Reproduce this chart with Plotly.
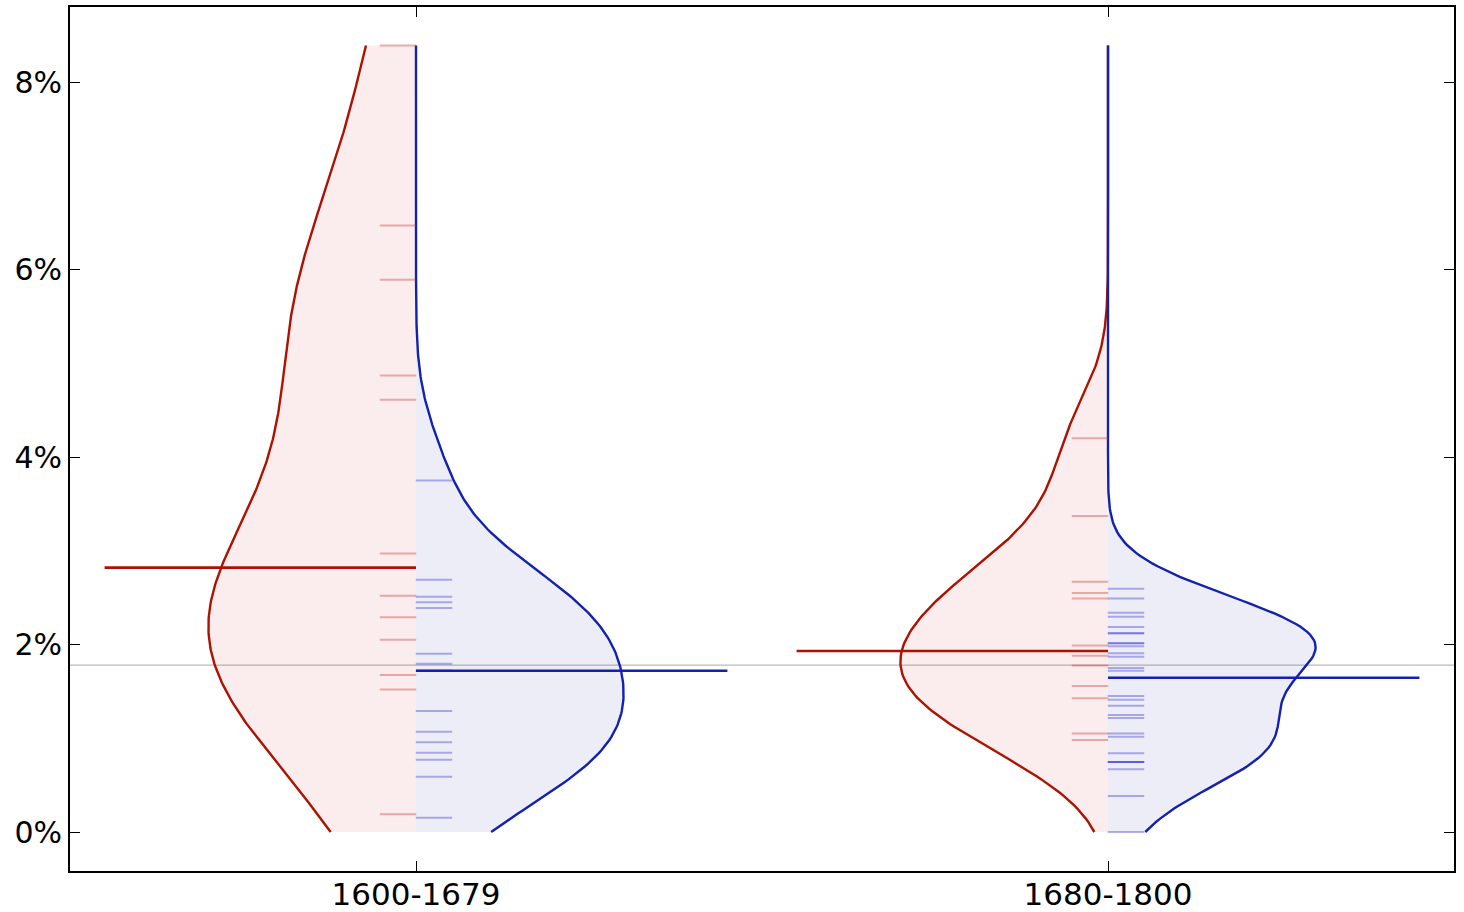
import numpy as np
import plotly.graph_objects as go

categories = ["1600-1679", "1680-1800"]
positions = [0, 1]

red_values = [
    [8.39, 6.47, 5.89, 4.87, 4.61, 2.97, 2.52, 2.29, 2.05, 1.675, 1.52, 0.19],
    [4.20, 3.37, 2.67, 2.55, 2.49, 1.99, 1.88, 1.775, 1.557, 1.426, 1.05, 0.98],
]
blue_values = [
    [3.75, 2.69, 2.51, 2.45, 2.39, 1.90, 1.795, 1.72, 1.72, 1.29, 1.07, 0.957, 0.846, 0.77,
     0.59, 0.153],
    [2.595, 2.49, 2.34, 2.295, 2.187, 2.12, 2.12, 2.013, 2.013, 1.98, 1.906, 1.87,
     1.75, 1.72, 1.45, 1.41, 1.347, 1.248, 1.216, 1.05, 1.017, 0.84, 0.747, 0.747, 0.747,
     0.67, 0.384, 0.0],
]
red_means = [2.82, 1.93]
blue_means = [1.72, 1.645]
overall_mean = 1.78
red_bw = [1.25, 0.55]
blue_bw = [0.6, 0.36]

y_tickvals = [0, 2, 4, 6, 8]

RED_LINE = "#ad1200"
BLUE_LINE = "#1222ae"
RED_FILL = "rgba(215,60,60,0.09)"
BLUE_FILL = "rgba(60,60,180,0.09)"
RED_TICK = "rgba(205,50,50,0.38)"
BLUE_TICK = "rgba(50,50,205,0.38)"

HALF = 0.30
MEAN_LEN = 0.45
TICK_OFF = 0.026

all_vals = np.concatenate([np.ravel(v) for grp in (red_values, blue_values) for v in grp])
grid = np.linspace(all_vals.min(), all_vals.max(), 300)


def kde(vals, bw):
    v = np.asarray(vals, dtype=float)[:, None]
    d = np.exp(-0.5 * ((grid[None, :] - v) / bw) ** 2).sum(axis=0)
    return d / d.max()


fig = go.Figure()

fig.add_hline(y=overall_mean, line=dict(color="#a8a8a8", width=1), layer="below")

for i, pos in enumerate(positions):
    for vals, bw, sign, line_c, fill_c in [
        (red_values[i], red_bw[i], -1, RED_LINE, RED_FILL),
        (blue_values[i], blue_bw[i], 1, BLUE_LINE, BLUE_FILL),
    ]:
        d = kde(vals, bw)
        xs = pos + sign * HALF * d
        fig.add_trace(go.Scatter(
            x=np.concatenate([xs, [pos, pos]]),
            y=np.concatenate([grid, [grid[-1], grid[0]]]),
            mode="lines", fill="toself", fillcolor=fill_c,
            line=dict(width=0), hoverinfo="skip", showlegend=False,
        ))
        fig.add_trace(go.Scatter(
            x=xs, y=grid, mode="lines",
            line=dict(color=line_c, width=2.4), hoverinfo="skip", showlegend=False,
        ))

for i, pos in enumerate(positions):
    fig.add_trace(go.Scatter(
        x=[pos - TICK_OFF] * len(red_values[i]), y=red_values[i], mode="markers",
        marker=dict(symbol="line-ew", size=26, line=dict(color=RED_TICK, width=2)),
        showlegend=False,
    ))
    fig.add_trace(go.Scatter(
        x=[pos + TICK_OFF] * len(blue_values[i]), y=blue_values[i], mode="markers",
        marker=dict(symbol="line-ew", size=26, line=dict(color=BLUE_TICK, width=2)),
        showlegend=False,
    ))
    fig.add_trace(go.Scatter(
        x=[pos - MEAN_LEN, pos], y=[red_means[i]] * 2, mode="lines",
        line=dict(color=RED_LINE, width=2.6), showlegend=False,
    ))
    fig.add_trace(go.Scatter(
        x=[pos, pos + MEAN_LEN], y=[blue_means[i]] * 2, mode="lines",
        line=dict(color=BLUE_LINE, width=2.6), showlegend=False,
    ))

axis_common = dict(
    showgrid=False, zeroline=False, showline=True, linecolor="black", linewidth=2,
    mirror="allticks", ticks="inside", ticklen=10, tickwidth=1, tickcolor="black",
    automargin=False,
)
fig.update_xaxes(range=[-0.5, 1.5], tickvals=positions, ticktext=categories,
                 ticklabelstandoff=-5,
                 tickfont=dict(family="DejaVu Sans", size=31, color="black"), **axis_common)
fig.update_yaxes(range=[-0.416, 8.8], tickvals=y_tickvals,
                 ticktext=[f"{v}%" for v in y_tickvals],
                 tickfont=dict(family="DejaVu Sans", size=30, color="black"), **axis_common)

fig.update_layout(
    width=1464, height=912, autosize=False,
    margin=dict(l=70, r=10, t=7, b=41),
    plot_bgcolor="white", paper_bgcolor="white",
    showlegend=False,
)

fig.write_html("out.html")
